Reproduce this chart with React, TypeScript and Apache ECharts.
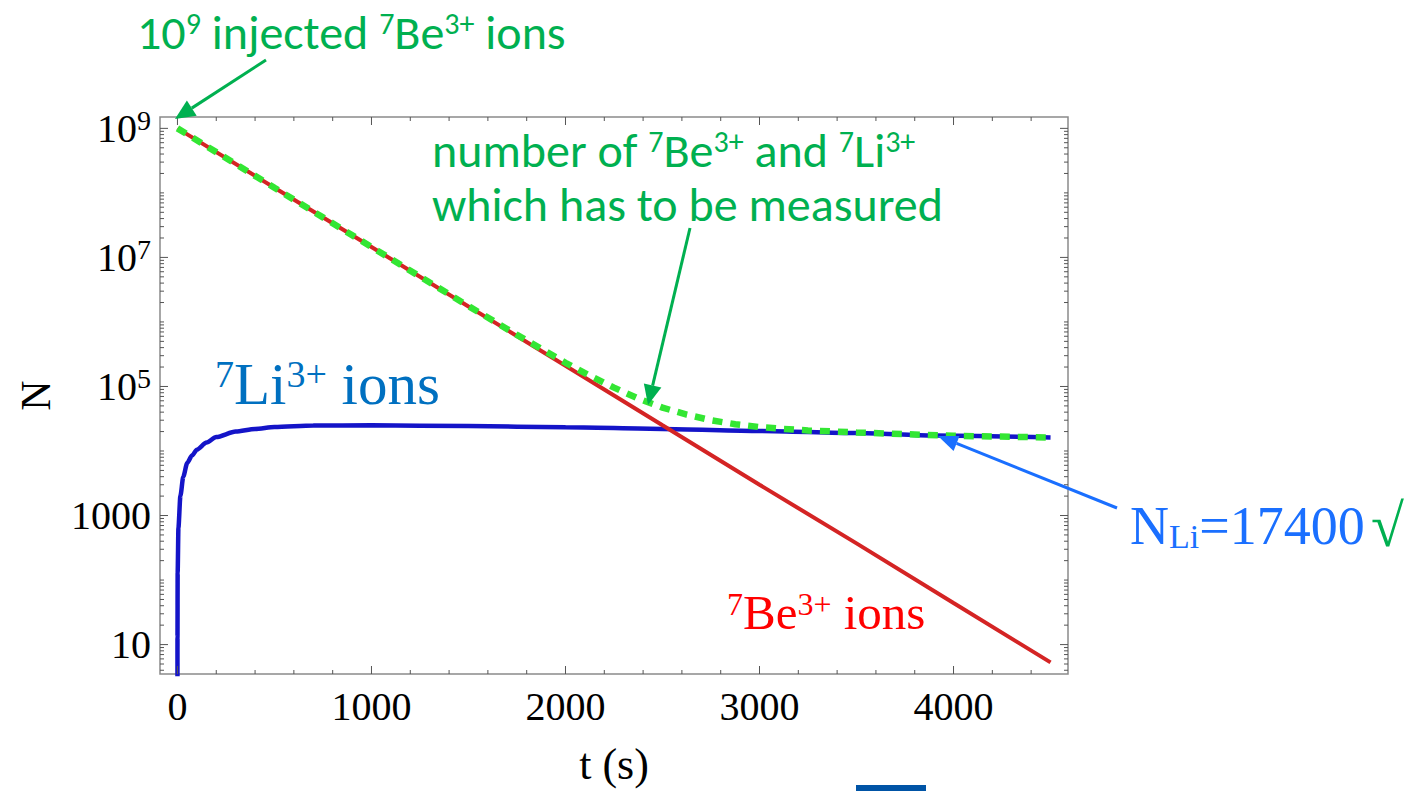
import React, { useEffect, useRef } from "react";
import * as echarts from "echarts";

// Decay of stored 7Be3+ ions and build-up of 7Li3+ ions (log scale)
const timeBe = [0, 500, 1000, 1500, 2000, 2500, 3000, 3500, 4000, 4500];
const countBe = [1e9, 1.2e8, 1.45e7, 1.74e6, 2.1e5, 2.5e4, 3.0e3, 370, 44, 5.3];

const timeLi = [0.03, 0.1, 1, 5, 15, 30, 50, 75, 100, 150, 200, 300, 400, 500, 700, 1000, 1500, 2000, 2500, 3000, 3500, 3900, 4500];
const countLi = [2, 13, 130, 650, 2000, 4000, 6500, 8500, 10500, 13500, 16500, 20000, 22000, 23500, 24800, 25000, 24300, 23300, 22000, 20500, 19000, 17400, 16200];

// Total number of ions (Be + Li) that has to be measured
const timeSum = [0, 500, 1000, 1500, 1750, 2000, 2125, 2250, 2375, 2500, 2625, 2750, 2875, 3000, 3125, 3250, 3500, 4000, 4500];
const countSum = [1e9, 1.2e8, 1.45e7, 1.76e6, 6.3e5, 2.33e5, 1.47e5, 9.6e4, 6.5e4, 4.7e4, 3.66e4, 3.0e4, 2.6e4, 2.35e4, 2.2e4, 2.08e4, 1.94e4, 1.72e4, 1.62e4];

// Axis ranges and labelled ticks
const X_MIN = -90;
const X_MAX = 4590;
const Y_MIN = 3.5;
const Y_MAX = 1.5e9;
const xMajorTicks = [0, 1000, 2000, 3000, 4000];
const xMinorStep = 200;
const yMajorTicks = [10, 1e3, 1e5, 1e7, 1e9];

const SERIF = "'Liberation Serif', 'Times New Roman', serif";
const SANS = "Carlito, 'Open Sans', 'Noto Sans', sans-serif";
const GREEN_TXT = "#00b050";
const BLUE_TXT = "#1a6fff";

const zip = (xs: number[], ys: number[]) => xs.map((x, i) => [x, ys[i]]);

function buildTicks() {
  const out: number[][] = [];
  for (let v = 0; v <= X_MAX; v += xMinorStep) {
    out.push([v, 10, 0, xMajorTicks.includes(v) ? 8 : 4]);
  }
  for (let n = 0; n <= 9; n++) {
    for (let k = 1; k <= 9; k++) {
      const v = k * Math.pow(10, n);
      if (v < Y_MIN || v > Y_MAX) continue;
      const major = k === 1 && yMajorTicks.some((t) => Math.abs(t - v) < 1e-6 * v);
      out.push([0, v, 1, major ? 8 : 4]);
    }
  }
  return out;
}

function arrow(x1: number, y1: number, x2: number, y2: number, color: string, width: number, headLen: number, headW: number) {
  const dx = x2 - x1;
  const dy = y2 - y1;
  const L = Math.sqrt(dx * dx + dy * dy);
  const ux = dx / L;
  const uy = dy / L;
  const bx = x2 - ux * headLen;
  const by = y2 - uy * headLen;
  const px = -uy;
  const py = ux;
  return [
    { type: "line", shape: { x1, y1, x2: bx, y2: by }, style: { stroke: color, lineWidth: width }, z: 20 },
    {
      type: "polygon",
      shape: { points: [[x2, y2], [bx + px * headW, by + py * headW], [bx - px * headW, by - py * headW]] },
      style: { fill: color },
      z: 20,
    },
  ];
}

function richText(x: number, y: number, text: string, color: string, family: string, size: number, supSize: number) {
  return {
    type: "text",
    x,
    y,
    z: 20,
    style: {
      text,
      fill: color,
      fontFamily: family,
      fontSize: size,
      align: "left",
      verticalAlign: "middle",
      rich: {
        n: { fill: color, color, fontFamily: family, fontSize: size, lineHeight: size },
        s: { fill: color, color, fontFamily: family, fontSize: supSize, lineHeight: supSize * 1.1, verticalAlign: "top" },
        u: { fill: color, color, fontFamily: family, fontSize: supSize, lineHeight: supSize * 1.1, verticalAlign: "bottom" },
      },
    },
  };
}

function yLabel(v: number) {
  const e = Math.log10(v);
  const r = Math.round(e);
  if (Math.abs(e - r) > 1e-6) return "";
  if (!yMajorTicks.some((t) => Math.round(Math.log10(t)) === r)) return "";
  if (r <= 3) return "{b|" + String(Math.round(Math.pow(10, r))) + "}";
  return "{b|10}{s|" + r + "}";
}

export default function App() {
  const ref = useRef<HTMLDivElement>(null);

  useEffect(() => {
    if (!ref.current) return;
    const chart = echarts.init(ref.current, undefined, { renderer: "svg" });

    const option: any = {
      animation: false,
      backgroundColor: "#ffffff",
      grid: {
        left: 160,
        top: 117,
        right: 351,
        bottom: 111,
        show: true,
        borderColor: "#8a8a8a",
        borderWidth: 1.5,
        backgroundColor: "transparent",
      },
      xAxis: {
        type: "value",
        min: X_MIN,
        max: X_MAX,
        axisLine: { show: false },
        axisTick: { show: false },
        splitLine: { show: false },
        axisLabel: {
          formatter: (v: number) => (xMajorTicks.includes(v) ? String(v) : ""),
          fontFamily: SERIF,
          fontSize: 40,
          color: "#000",
          margin: 12,
        },
        name: "t (s)",
        nameLocation: "middle",
        nameGap: 68,
        nameTextStyle: { fontFamily: SERIF, fontSize: 44, color: "#000" },
      },
      yAxis: {
        type: "log",
        logBase: 10,
        min: Y_MIN,
        max: Y_MAX,
        axisLine: { show: false },
        axisTick: { show: false },
        splitLine: { show: false },
        axisLabel: {
          formatter: yLabel,
          margin: 9,
          rich: {
            b: { fontFamily: SERIF, fontSize: 40, color: "#000", lineHeight: 44 },
            s: { fontFamily: SERIF, fontSize: 28, color: "#000", lineHeight: 30, verticalAlign: "top" },
          },
        },
        name: "N",
        nameLocation: "middle",
        nameGap: 103,
        nameTextStyle: { fontFamily: SERIF, fontSize: 42, color: "#000" },
      },
      series: [
        {
          type: "line",
          data: zip(timeLi, countLi),
          showSymbol: false,
          clip: true,
          smooth: 0.25,
          smoothMonotone: "x",
          lineStyle: { color: "#1414c8", width: 4.5 },
          z: 2,
        },
        {
          type: "line",
          data: zip(timeBe, countBe),
          showSymbol: false,
          clip: true,
          lineStyle: { color: "#d42424", width: 4 },
          z: 3,
        },
        {
          type: "line",
          data: zip(timeSum, countSum),
          showSymbol: false,
          clip: true,
          lineStyle: { color: "#33e633", width: 6.5, type: [10, 8] },
          z: 4,
        },
        {
          type: "custom",
          silent: true,
          clip: false,
          z: 6,
          data: buildTicks(),
          renderItem: (params: any, api: any) => {
            const cs = params.coordSys;
            const kind = api.value(2);
            const len = api.value(3);
            const st = { stroke: "#555", lineWidth: 1 };
            if (kind === 0) {
              const px = api.coord([api.value(0), 10])[0];
              const yb = cs.y + cs.height;
              return {
                type: "group",
                children: [
                  { type: "line", shape: { x1: px, y1: yb, x2: px, y2: yb - len }, style: st },
                  { type: "line", shape: { x1: px, y1: cs.y, x2: px, y2: cs.y + len }, style: st },
                ],
              };
            }
            const py = api.coord([0, api.value(1)])[1];
            const xr = cs.x + cs.width;
            return {
              type: "group",
              children: [
                { type: "line", shape: { x1: cs.x, y1: py, x2: cs.x + len, y2: py }, style: st },
                { type: "line", shape: { x1: xr, y1: py, x2: xr - len, y2: py }, style: st },
              ],
            };
          },
        },
      ],
      graphic: [
        richText(137, 32, "{n|10}{s|9}{n| injected }{s|7}{n|Be}{s|3+}{n| ions}", GREEN_TXT, SANS, 48, 30),
        richText(432, 150, "{n|number of }{s|7}{n|Be}{s|3+}{n| and }{s|7}{n|Li}{s|3+}", GREEN_TXT, SANS, 48, 30),
        richText(432, 204, "{n|which has to be measured}", GREEN_TXT, SANS, 48, 30),
        richText(215, 384, "{s|7}{n|Li}{s|3+}{n| ions}", "#0070c0", SERIF, 59, 38),
        richText(727, 612, "{s|7}{n|Be}{s|3+}{n| ions}", "#ff0000", SERIF, 49, 32),
        richText(1130, 526, "{n|N}{u|Li}{n|=17400}", BLUE_TXT, SERIF, 54, 34),
        richText(1371, 526, "{n|\u221a}", GREEN_TXT, SERIF, 60, 34),
        ...arrow(266, 60, 175, 119, GREEN_TXT, 3, 20, 9),
        ...arrow(690, 228, 648, 405, GREEN_TXT, 3, 20, 9),
        ...arrow(1117, 508, 938, 436, BLUE_TXT, 3, 20, 8),
        { type: "rect", shape: { x: 856, y: 785, width: 70, height: 6 }, style: { fill: "#0054a6" }, z: 20 },
      ],
    };

    chart.setOption(option);
    return () => chart.dispose();
  }, []);

  return (
    <div
      ref={ref}
      style={{ position: "absolute", left: 0, top: 0, width: 1419, height: 791, background: "#fff" }}
    />
  );
}
